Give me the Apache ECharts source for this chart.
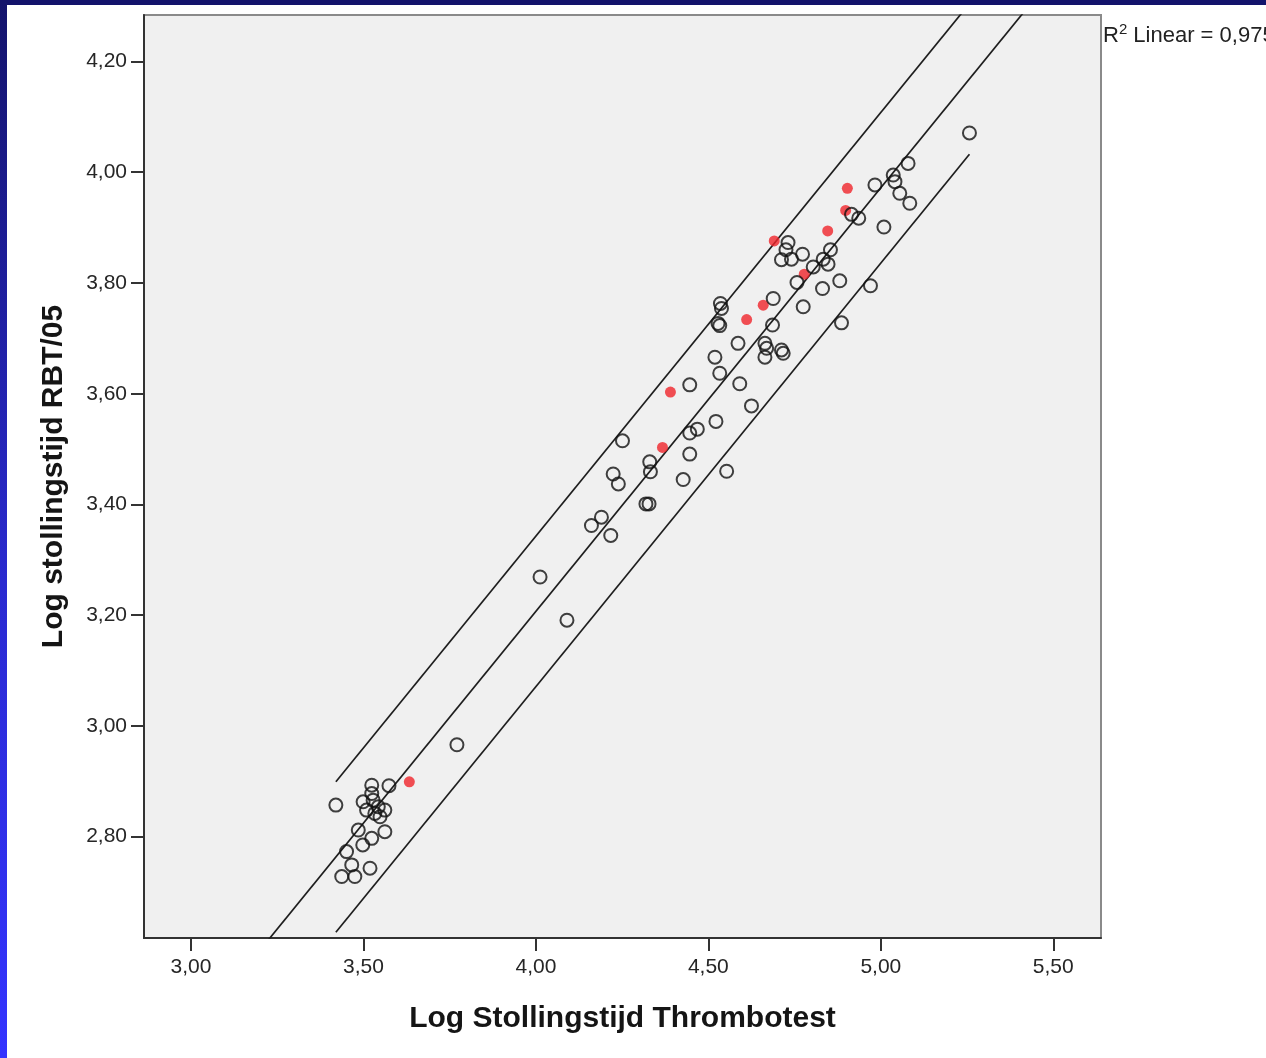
<!DOCTYPE html>
<html>
<head>
<meta charset="utf-8">
<title>Log stollingstijd RBT/05 vs Thrombotest</title>
<script src="https://cdn.jsdelivr.net/npm/echarts@6/dist/echarts.min.js"></script>
<style>
  html, body { margin: 0; padding: 0; background: #ffffff; overflow: hidden; }
  #chart { position: absolute; left: 0; top: 0; width: 1266px; height: 1058px; }
  #edgeTop { position: absolute; left: 0; top: 0; width: 1266px; height: 5px; background: #13136b; z-index: 2; }
  #edgeLeft { position: absolute; left: 0; top: 0; width: 7px; height: 1058px;
              background: linear-gradient(#13136b, #2a2ad0 55%, #3434ff); z-index: 3; }
</style>
</head>
<body>
<div id="chart"></div>
<div id="edgeTop"></div>
<div id="edgeLeft"></div>
<script>
// Log clotting time: Thrombotest (x) against RBT/05 (y)
const openX = [
  3.420, 3.524, 3.574, 3.524, 3.499, 3.528, 3.543, 3.509, 3.562, 3.533,
  3.548, 3.562, 3.485, 3.524, 3.498, 3.451, 3.466, 3.519, 3.437, 3.475,
  3.771, 4.012, 4.090,
  4.446, 4.251, 4.522, 4.446, 4.468, 4.446, 4.330, 4.332, 4.224, 4.239,
  4.427, 4.553, 4.319, 4.328, 4.190, 4.161, 4.217, 4.533, 4.591, 4.625, 4.519,
  4.983, 5.036, 5.041, 5.055, 5.084, 5.079, 4.915, 4.936, 5.009, 4.731,
  4.725, 4.712, 4.741, 4.773, 4.854, 4.833, 4.847, 4.804, 4.757, 4.831,
  4.881, 4.970, 4.688, 4.775, 4.535, 4.538, 4.528, 4.533, 4.686, 4.886,
  4.586, 4.664, 4.669, 4.712, 4.717, 4.664, 5.257
];
const openY = [
  2.857, 2.893, 2.892, 2.878, 2.863, 2.866, 2.854, 2.848, 2.848, 2.842,
  2.836, 2.809, 2.812, 2.797, 2.785, 2.773, 2.749, 2.743, 2.728, 2.728,
  2.966, 3.269, 3.191,
  3.616, 3.515, 3.550, 3.529, 3.536, 3.491, 3.477, 3.459, 3.455, 3.437,
  3.445, 3.460, 3.401, 3.401, 3.377, 3.362, 3.344, 3.637, 3.618, 3.578, 3.666,
  3.977, 3.995, 3.983, 3.962, 3.944, 4.016, 3.924, 3.917, 3.901, 3.873,
  3.860, 3.842, 3.843, 3.852, 3.860, 3.843, 3.834, 3.829, 3.801, 3.790,
  3.804, 3.795, 3.772, 3.757, 3.763, 3.754, 3.727, 3.723, 3.724, 3.728,
  3.691, 3.691, 3.682, 3.679, 3.673, 3.666, 4.071
];

// Highlighted cases (filled red)
const redX = [3.633, 4.390, 4.367, 4.611, 4.659, 4.691, 4.778, 4.846, 4.898, 4.903];
const redY = [2.899, 3.603, 3.503, 3.734, 3.760, 3.876, 3.816, 3.894, 3.931, 3.971];

// Linear fit and the prediction band around it
const fitIntercept = 0.147;
const fitSlope = 0.765;
const bandHalfWidth = 0.136;
const rSquared = '0,975';

// Axis ranges and tick values
const xRange = [2.8637, 5.6384];
const yRange = [2.617, 4.284];
const xTicks = [3.0, 3.5, 4.0, 4.5, 5.0, 5.5];
const yTicks = [2.8, 3.0, 3.2, 3.4, 3.6, 3.8, 4.0, 4.2];

const openPoints = openX.map((x, i) => [x, openY[i]]);
const redPoints = redX.map((x, i) => [x, redY[i]]);

const allX = openX.concat(redX);
const dataMinX = Math.min.apply(null, allX);
const dataMaxX = Math.max.apply(null, allX);

const fitAt = (x, shift) => [x, fitIntercept + fitSlope * x + shift];
const fitLine = [fitAt(xRange[0], 0), fitAt(xRange[1], 0)];
const upperLine = [fitAt(dataMinX, bandHalfWidth), fitAt(dataMaxX, bandHalfWidth)];
const lowerLine = [fitAt(dataMinX, -bandHalfWidth), fitAt(dataMaxX, -bandHalfWidth)];

const commaFmt = v => v.toFixed(2).replace('.', ',');
const FONT = "'Liberation Sans', Arial, sans-serif";

const lineStyle = { color: '#1e1e1e', width: 1.7 };
const lineSeries = (data) => ({
  type: 'line', data: data, symbol: 'none', clip: true, silent: true,
  lineStyle: lineStyle, z: 2
});

const axisCommon = {
  type: 'value',
  splitLine: { show: false },
  axisLine: { show: true, onZero: false, lineStyle: { color: '#333333', width: 2 } },
  nameLocation: 'middle',
  nameTextStyle: { fontFamily: FONT, fontSize: 30, fontWeight: 'bold', color: '#151515' }
};

const chart = echarts.init(document.getElementById('chart'), null, { renderer: 'canvas' });
chart.setOption({
  animation: false,
  backgroundColor: 'transparent',
  grid: {
    left: 144, top: 15, right: 165, bottom: 120,
    show: true, backgroundColor: '#f0f0f0', borderColor: '#8a8a8a', borderWidth: 2
  },
  xAxis: Object.assign({}, axisCommon, {
    min: xRange[0], max: xRange[1],
    name: 'Log Stollingstijd Thrombotest', nameGap: 66,
    axisTick: { show: true, customValues: xTicks, length: 13, lineStyle: { color: '#333333', width: 2 } },
    axisLabel: { customValues: xTicks, formatter: commaFmt, margin: 19,
                 fontFamily: FONT, fontSize: 21, color: '#262626' }
  }),
  yAxis: Object.assign({}, axisCommon, {
    min: yRange[0], max: yRange[1],
    name: 'Log stollingstijd RBT/05', nameGap: 75, nameRotate: 90,
    axisTick: { show: true, customValues: yTicks, length: 13, lineStyle: { color: '#333333', width: 2 } },
    axisLabel: { customValues: yTicks, formatter: commaFmt, margin: 17,
                 fontFamily: FONT, fontSize: 21, color: '#262626' }
  }),
  graphic: [{
    type: 'text', left: 1103, top: 22, z: 10,
    style: {
      text: '{r|R}{s|2}{r| Linear = ' + rSquared + '}',
      fill: '#222222',
      rich: {
        r: { fontFamily: FONT, fontSize: 22, lineHeight: 27, fill: '#222222' },
        s: { fontFamily: FONT, fontSize: 15, lineHeight: 17, verticalAlign: 'top', fill: '#222222' }
      }
    }
  }],
  series: [
    lineSeries(fitLine),
    lineSeries(upperLine),
    lineSeries(lowerLine),
    {
      type: 'scatter', data: redPoints, symbol: 'circle', symbolSize: 11, z: 3,
      itemStyle: { color: '#f0242a', borderWidth: 0 }, silent: true
    },
    {
      type: 'scatter', data: openPoints, symbol: 'circle', symbolSize: 13, z: 4,
      itemStyle: { color: 'rgba(0,0,0,0)', borderColor: '#111111', borderWidth: 2 }, silent: true
    }
  ]
});
</script>
</body>
</html>
